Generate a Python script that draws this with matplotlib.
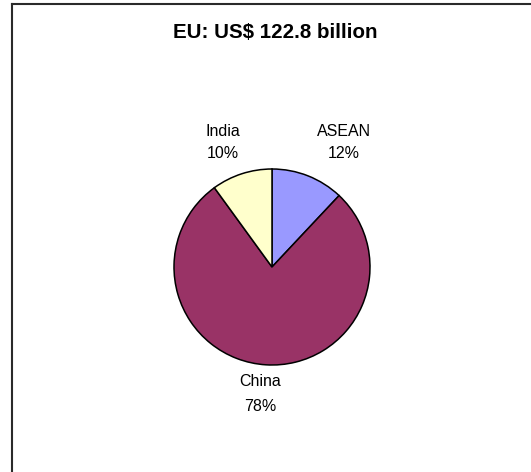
import matplotlib
matplotlib.use("Agg")
import matplotlib.pyplot as plt
from matplotlib.lines import Line2D

plt.rcParams['font.family'] = ['Liberation Sans', 'DejaVu Sans']

title = "EU: US$ 122.8 billion"
regions = ["ASEAN", "China", "India"]
shares = [12, 78, 10]
colors = ["#9999FF", "#993366", "#FFFFCC"]

W, H, DPI = 531, 472, 100
fig = plt.figure(figsize=(W / DPI, H / DPI), dpi=DPI)
ax = fig.add_axes([0, 0, 1, 1])

# pie centre and radius in pixels
cx, cy, r = 272, 267, 98

ax.pie(shares, colors=colors, startangle=90, counterclock=False,
       wedgeprops=dict(edgecolor="black", linewidth=1.1))
ax.set_aspect("auto")
ax.set_xlim(-cx / r, (W - cx) / r)
ax.set_ylim(-(H - cy) / r, cy / r)
ax.axis("off")

# label positions (data units, pie radius = 1) and line spacing
label_pos = {"ASEAN": (0.735, 1.272, 1.62),
             "China": (-0.12, -1.296, 1.80),
             "India": (-0.50, 1.272, 1.62)}
for name, val in zip(regions, shares):
    x, y, ls = label_pos[name]
    ax.text(x, y, f"{name}\n{val}%", ha="center", va="center",
            fontsize=11.5, linespacing=ls, color="black")

fig.text(275 / W, 1 - 32 / H, title, ha="center", va="center",
         fontsize=14.8, fontweight="bold")

# chart-area frame (left and top edges visible)
bx, by = 11.5 / W, 1 - 3.5 / H
fig.add_artist(Line2D([bx, bx], [-0.01, by], transform=fig.transFigure,
                      color="#2a2a2a", linewidth=1.5))
fig.add_artist(Line2D([bx, 1.01], [by, by], transform=fig.transFigure,
                      color="#2a2a2a", linewidth=1.5))

fig.savefig("out.png", dpi=DPI)
